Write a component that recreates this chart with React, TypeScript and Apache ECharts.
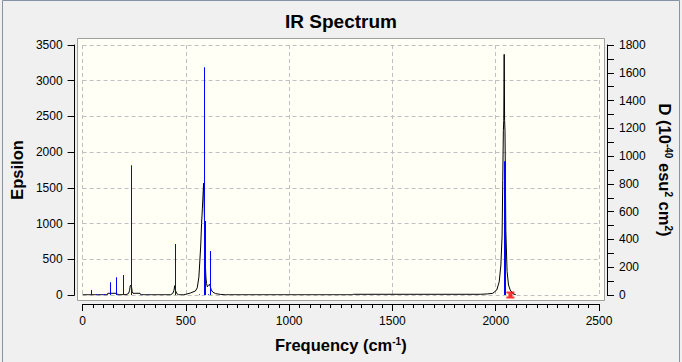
import React, { useEffect, useRef } from "react";
import * as echarts from "echarts";

// Broadened spectrum (epsilon, left axis)
const curveFreq = [
  0, 120, 122, 166, 168, 210, 222, 227, 231, 234, 237, 240, 244, 278, 282,
  425, 436, 442, 446, 450, 456, 465,
  488, 500, 522, 546, 555, 563, 567, 572, 576, 580, 583, 586, 588, 590, 592, 594, 597, 600, 604, 609, 614, 618, 623, 630, 643, 667, 692,
  1305, 1312, 1925, 1960, 1986, 2005, 2017, 2025, 2031, 2034, 2037, 2039, 2041, 2043, 2045, 2049, 2055, 2062, 2070, 2084, 2097,
];
const curveEps = [
  3, 3, 24, 24, 3, 5, 20, 60, 130, 140, 110, 50, 24, 24, 3,
  3, 20, 60, 130, 60, 20, 3,
  3, 10, 28, 56, 100, 250, 447, 700, 1000, 1216, 1400, 1566, 1300, 1049, 700, 447, 250, 160, 115, 135, 150, 120, 70, 42, 20, 8, 3,
  3, 10, 10, 15, 24, 70, 186, 419, 839, 1600, 2300, 2446, 3369, 2446, 2293, 900, 330, 140, 70, 15, 5,
];

// Stick spectrum (D, right axis)
const stickFreq = [42, 63, 79, 92, 103, 108, 132, 164, 197, 234, 289, 318, 446, 563, 587, 591, 608, 616, 2040, 2043];
const stickD = [36, 5, 5, 4, 5, 4, 91, 127, 144, 935, 4, 4, 367, 5, 1640, 532, 5, 316, 963, 963];

const markerFreq = [2071];

const xTicks = { min: 0, max: 2500, interval: 500 };
const epsTicks = { min: 0, max: 3500, interval: 500 };
const dTicks = { min: 0, max: 1800, interval: 200 };

const FONT = "'Liberation Sans', Arial, sans-serif";

export default function App() {
  const ref = useRef<HTMLDivElement>(null);

  useEffect(() => {
    document.body.style.margin = "0";
    const chart = echarts.init(ref.current!, null, { renderer: "svg" });
    const curve = curveFreq.map((f, i) => [f, curveEps[i]]);
    const sticks = stickFreq.map((f, i) => [f, stickD[i]]);
    const dashed = { show: true, lineStyle: { color: "#c0c0c0", type: [4, 3] as any, width: 1 } };
    const axisLine = { show: true, onZero: false, lineStyle: { color: "#000", width: 1 } };
    const label = { color: "#000", fontSize: 12, fontFamily: FONT, formatter: (v: number) => String(v) };
    const nameStyle = {
      color: "#000",
      fontSize: 16.5,
      fontWeight: "bold" as const,
      fontFamily: FONT,
      rich: {
        n: { fontSize: 16.5, fontWeight: "bold", fontFamily: FONT, color: "#000" },
        s: { fontSize: 10, fontWeight: "bold", fontFamily: FONT, color: "#000", verticalAlign: "top" },
      },
    };

    chart.setOption({
      animation: false,
      backgroundColor: "#f0f0f0",
      title: {
        text: "IR Spectrum",
        left: "center",
        top: 7,
        textStyle: { fontSize: 19, fontWeight: "bold", fontFamily: FONT, color: "#000" },
      },
      graphic: [
        {
          type: "rect",
          z: -10,
          silent: true,
          shape: { x: 2.5, y: 0.5, width: 677, height: 370 },
          style: { fill: "none", stroke: "#8494a4", lineWidth: 1 },
        },
        {
          type: "rect",
          z: -10,
          silent: true,
          shape: { x: 77.5, y: 38.5, width: 527, height: 262 },
          style: { fill: "#fffff5", stroke: "#a0a0a0", lineWidth: 1 },
        },
      ],
      grid: { left: 82, right: 83, top: 45, bottom: 67 },
      xAxis: {
        type: "value",
        ...xTicks,
        offset: 9,
        name: "{n|Frequency (cm}{s|-1}{n|)}",
        nameLocation: "middle",
        nameGap: 32,
        nameTextStyle: nameStyle,
        axisLine,
        axisTick: { show: true, length: 7, lineStyle: { color: "#000" } },
        minorTick: { show: true, splitNumber: 10, length: 4, lineStyle: { color: "#000" } },
        splitLine: dashed,
        axisLabel: { ...label, margin: 11 },
      },
      yAxis: [
        {
          type: "value",
          position: "left",
          ...epsTicks,
          offset: 8,
          name: "Epsilon",
          nameLocation: "middle",
          nameGap: 47,
          nameRotate: 90,
          nameTextStyle: nameStyle,
          axisLine,
          axisTick: { show: true, length: 7, lineStyle: { color: "#000" } },
          splitLine: dashed,
          axisLabel: { ...label, margin: 12 },
        },
        {
          type: "value",
          position: "right",
          ...dTicks,
          offset: 8,
          name: "{n|D (10}{s|-40}{n| esu}{s|2}{n| cm}{s|2}{n|)}",
          nameLocation: "middle",
          nameGap: 45,
          nameRotate: -90,
          nameTextStyle: nameStyle,
          axisLine,
          axisTick: { show: true, length: 7, lineStyle: { color: "#000" } },
          minorTick: { show: true, splitNumber: 2, length: 7, lineStyle: { color: "#000" } },
          splitLine: { show: false },
          axisLabel: { ...label, margin: 12 },
        },
      ],
      series: [
        {
          type: "line",
          data: curve,
          yAxisIndex: 0,
          showSymbol: false,
          symbol: "none",
          lineStyle: { color: "#000", width: 1 },
          z: 2,
        },
        {
          type: "custom",
          data: sticks,
          yAxisIndex: 1,
          encode: { x: 0, y: 1 },
          z: 3,
          renderItem: (params: any, api: any) => {
            const f = api.value(0);
            const d = api.value(1);
            const p0 = api.coord([f, 0]);
            const p1 = api.coord([f, d]);
            const x = Math.round(p0[0]);
            return {
              type: "rect",
              shape: { x: x, y: p1[1], width: 1, height: p0[1] - p1[1] },
              style: { fill: "#0000ff", stroke: "none" },
            };
          },
        },
        {
          type: "scatter",
          yAxisIndex: 1,
          data: markerFreq.map((f) => [f, 0]),
          symbol: "path://M0,0 H8 V2 H6 V5 H8 V7 H0 V5 H2 V2 H0 Z",
          symbolSize: [8, 7],
          itemStyle: { color: "#ff0000" },
          z: 4,
        },
      ],
    });
    return () => chart.dispose();
  }, []);

  return (
    <div
      ref={ref}
      style={{ position: "absolute", left: 0, top: 0, width: 682, height: 362 }}
    />
  );
}
